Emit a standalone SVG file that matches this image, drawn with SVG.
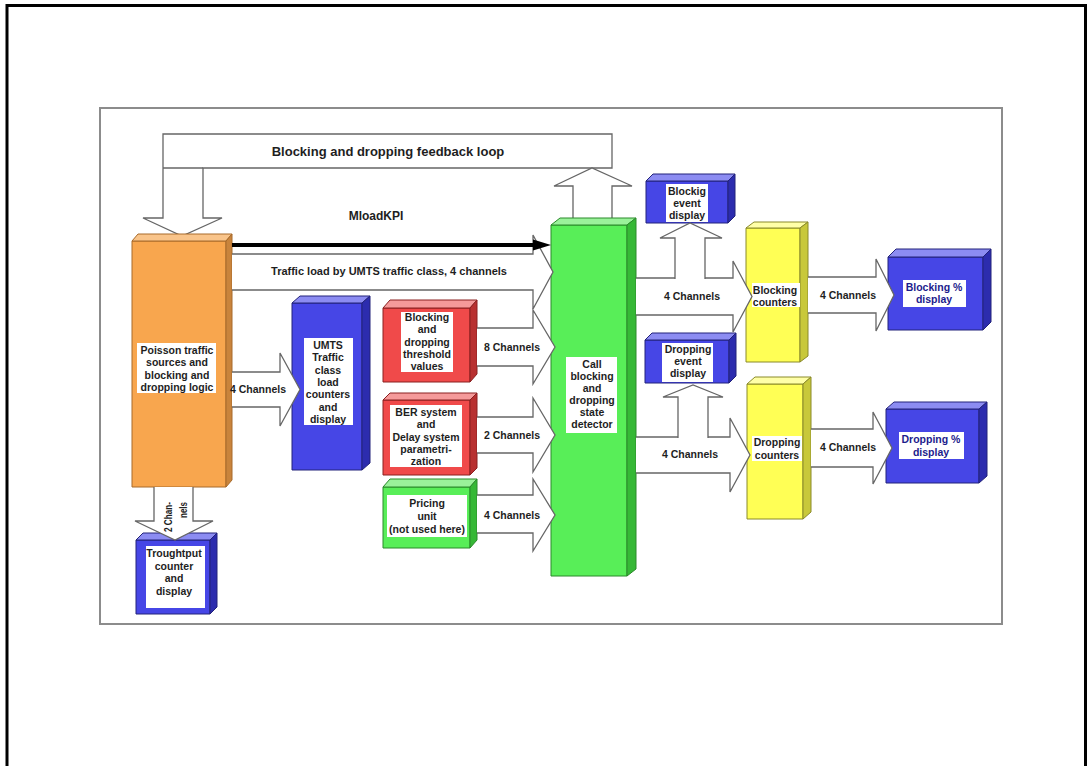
<svg xmlns="http://www.w3.org/2000/svg" width="1087" height="766" viewBox="0 0 1087 766">
  <style>
    text { font-family: "Liberation Sans", Arial, sans-serif; font-weight: bold; font-size: 10.5px; fill: #1e1e1e; text-anchor: middle; }
    .title { font-size: 13px; }
    .kpi { font-size: 12px; }
    .wide { font-size: 11px; }
    .blue-text { fill: #1c1c8c; }
    .hollow { fill: #ffffff; stroke: #666666; stroke-width: 1.3; stroke-linejoin: miter; }
    .label { fill: #ffffff; }
    .face { stroke-width: 1; stroke-linejoin: round; }
    .orange .front { fill: #f8a64e; stroke: #a86a2a; }
    .orange .top { fill: #f9c48a; stroke: #a86a2a; }
    .orange .side { fill: #c9843c; stroke: #a86a2a; }
    .blue .front { fill: #4646e6; stroke: #22227a; }
    .blue .top { fill: #8c8cf2; stroke: #22227a; }
    .blue .side { fill: #2c2cae; stroke: #22227a; }
    .red .front { fill: #f04a4a; stroke: #8a2020; }
    .red .top { fill: #f59a9a; stroke: #8a2020; }
    .red .side { fill: #b83030; stroke: #8a2020; }
    .green .front { fill: #58ee58; stroke: #2a8a2a; }
    .green .top { fill: #9af29a; stroke: #2a8a2a; }
    .green .side { fill: #36b836; stroke: #2a8a2a; }
    .yellow .front { fill: #ffff55; stroke: #8a8a2a; }
    .yellow .top { fill: #ffffa8; stroke: #8a8a2a; }
    .yellow .side { fill: #c8c83a; stroke: #8a8a2a; }
  </style>

  <!-- page frame -->
  <rect x="0" y="0" width="1087" height="766" fill="#ffffff"/>
  <path d="M7,770 V5.5 H1085.5 V770" fill="none" stroke="#000000" stroke-width="3"/>
  <!-- drawing area -->
  <rect x="100" y="108" width="902" height="516" fill="#ffffff" stroke="#8c8c8c" stroke-width="2"/>

  <!-- feedback loop (drawn beneath the blocks) -->
  <g id="feedback-loop">
    <path class="hollow" d="M163,218 V134 H612 V168 H203 V218 H222 L182,236 L143,218 Z"/>
    <path d="M163,168 H203" stroke="#666666" stroke-width="1.3"/>
    <path class="hollow" d="M573,219.5 V186 H554 L592,168 L632,186 H612 V219.5"/>
    <text class="title" x="388" y="156">Blocking and dropping feedback loop</text>
  </g>

  <g id="nodes">
    <g id="poisson" class="orange">
      <rect class="face front" x="132" y="241" width="94" height="246"/>
      <polygon class="face top" points="132,241 138,234 232,234 226,241"/>
      <polygon class="face side" points="226,241 232,234 232,480 226,487"/>
      <rect class="label" x="137" y="343" width="79" height="50"/>
      <text x="177" y="354">Poisson traffic<tspan x="177" dy="12.3">sources and</tspan><tspan x="177" dy="12.3">blocking and</tspan><tspan x="177" dy="12.3">dropping logic</tspan></text>
    </g>

    <g id="umts-counters" class="blue">
      <rect class="face front" x="292" y="303" width="70" height="167"/>
      <polygon class="face top" points="292,303 300,296 370,296 362,303"/>
      <polygon class="face side" points="362,303 370,296 370,463 362,470"/>
      <rect class="label" x="304" y="338" width="49" height="87"/>
      <text x="328" y="349">UMTS<tspan x="328" dy="12.3">Traffic</tspan><tspan x="328" dy="12.3">class</tspan><tspan x="328" dy="12.3">load</tspan><tspan x="328" dy="12.3">counters</tspan><tspan x="328" dy="12.3">and</tspan><tspan x="328" dy="12.3">display</tspan></text>
    </g>

    <g id="thresholds" class="red">
      <rect class="face front" x="383" y="308" width="87" height="74"/>
      <polygon class="face top" points="383,308 390,300 477,300 470,308"/>
      <polygon class="face side" points="470,308 477,300 477,374 470,382"/>
      <rect class="label" x="401" y="312" width="52" height="60"/>
      <text x="427" y="321">Blocking<tspan x="427" dy="12.3">and</tspan><tspan x="427" dy="12.3">dropping</tspan><tspan x="427" dy="12.3">threshold</tspan><tspan x="427" dy="12.3">values</tspan></text>
    </g>

    <g id="ber-delay" class="red">
      <rect class="face front" x="383" y="400" width="87" height="75"/>
      <polygon class="face top" points="383,400 390,393 477,393 470,400"/>
      <polygon class="face side" points="470,400 477,393 477,468 470,475"/>
      <rect class="label" x="390" y="405" width="72" height="62"/>
      <text x="426" y="416">BER system<tspan x="426" dy="12.3">and</tspan><tspan x="426" dy="12.3">Delay system</tspan><tspan x="426" dy="12.3">parametri-</tspan><tspan x="426" dy="12.3">zation</tspan></text>
    </g>

    <g id="pricing" class="green">
      <rect class="face front" x="383" y="487" width="87" height="61"/>
      <polygon class="face top" points="383,487 390,479 477,479 470,487"/>
      <polygon class="face side" points="470,487 477,479 477,540 470,548"/>
      <rect class="label" x="387" y="495" width="80" height="42"/>
      <text x="427" y="507">Pricing<tspan x="427" dy="12.8">unit</tspan><tspan x="427" dy="12.8">(not used here)</tspan></text>
    </g>

    <g id="state-detector" class="green">
      <rect class="face front" x="551" y="225" width="76" height="351"/>
      <polygon class="face top" points="551,225 560,218 636,218 627,225"/>
      <polygon class="face side" points="627,225 636,218 636,569 627,576"/>
      <rect class="label" x="566" y="357" width="51" height="76"/>
      <text x="592" y="368">Call<tspan x="592" dy="12">blocking</tspan><tspan x="592" dy="12">and</tspan><tspan x="592" dy="12">dropping</tspan><tspan x="592" dy="12">state</tspan><tspan x="592" dy="12">detector</tspan></text>
    </g>

    <g id="blocking-event" class="blue">
      <rect class="face front" x="646" y="181" width="82" height="42"/>
      <polygon class="face top" points="646,181 653,174 735,174 728,181"/>
      <polygon class="face side" points="728,181 735,174 735,216 728,223"/>
      <rect class="label" x="666" y="184" width="42" height="38"/>
      <text x="687" y="195">Blockig<tspan x="687" dy="12">event</tspan><tspan x="687" dy="12">display</tspan></text>
    </g>

    <g id="dropping-event" class="blue">
      <rect class="face front" x="645" y="340" width="84" height="43"/>
      <polygon class="face top" points="645,340 652,333 736,333 729,340"/>
      <polygon class="face side" points="729,340 736,333 736,376 729,383"/>
      <rect class="label" x="662" y="343" width="51" height="39"/>
      <text x="688" y="353">Dropping<tspan x="688" dy="12">event</tspan><tspan x="688" dy="12">display</tspan></text>
    </g>

    <g id="blocking-counters" class="yellow">
      <rect class="face front" x="746" y="228" width="54" height="134"/>
      <polygon class="face top" points="746,228 754,222 808,222 800,228"/>
      <polygon class="face side" points="800,228 808,222 808,356 800,362"/>
      <rect class="label" x="752" y="283" width="48" height="24"/>
      <text x="775" y="294">Blocking<tspan x="775" dy="12">counters</tspan></text>
    </g>

    <g id="dropping-counters" class="yellow">
      <rect class="face front" x="747" y="384" width="56" height="135"/>
      <polygon class="face top" points="747,384 755,377 811,377 803,384"/>
      <polygon class="face side" points="803,384 811,377 811,512 803,519"/>
      <rect class="label" x="752" y="436" width="50" height="25"/>
      <text x="777" y="446">Dropping<tspan x="777" dy="12.5">counters</tspan></text>
    </g>

    <g id="blocking-percent" class="blue">
      <rect class="face front" x="888" y="257" width="95" height="73"/>
      <polygon class="face top" points="888,257 896,249 991,249 983,257"/>
      <polygon class="face side" points="983,257 991,249 991,322 983,330"/>
      <rect class="label" x="903" y="280" width="63" height="27"/>
      <text class="blue-text" x="934" y="291">Blocking %<tspan x="934" dy="12">display</tspan></text>
    </g>

    <g id="dropping-percent" class="blue">
      <rect class="face front" x="886" y="409" width="93" height="74"/>
      <polygon class="face top" points="886,409 894,402 987,402 979,409"/>
      <polygon class="face side" points="979,409 987,402 987,476 979,483"/>
      <rect class="label" x="899" y="432" width="65" height="27"/>
      <text class="blue-text" x="931" y="443">Dropping %<tspan x="931" dy="12.5">display</tspan></text>
    </g>

    <g id="throughput" class="blue">
      <rect class="face front" x="136" y="540" width="74" height="74"/>
      <polygon class="face top" points="136,540 143,533 217,533 210,540"/>
      <polygon class="face side" points="210,540 217,533 217,607 210,614"/>
      <rect class="label" x="146" y="546" width="59" height="62"/>
      <text x="174" y="557">Troughtput<tspan x="174" dy="12.5">counter</tspan><tspan x="174" dy="12.5">and</tspan><tspan x="174" dy="12.5">display</tspan></text>
    </g>
  </g>

  <g id="connectors">
    <!-- traffic load by class -->
    <path class="hollow" d="M232,254 H533 V235 L553,272 L533,309 V290 H232"/>
    <text class="wide" x="389" y="275">Traffic load by UMTS traffic class, 4 channels</text>

    <!-- MloadKPI -->
    <path d="M232,245 H537" stroke="#000000" stroke-width="4"/>
    <polygon points="533,239.5 551,245 533,250.5" fill="#000000"/>
    <text class="kpi" x="376" y="220">MloadKPI</text>

    <!-- to UMTS counters -->
    <path class="hollow" d="M232,372 H280 V353 L300,389.5 L280,426 V407 H232"/>
    <text x="258" y="393">4 Channels</text>

    <!-- inputs to state detector -->
    <path class="hollow" d="M477,328 H533 V310 L555,347 L533,384 V366 H477"/>
    <text x="512" y="351">8 Channels</text>
    <path class="hollow" d="M477,417 H533 V398 L555,435 L533,472 V453 H477"/>
    <text x="512" y="439">2 Channels</text>
    <path class="hollow" d="M477,495 H533 V479 L555,515 L533,551 V533 H477"/>
    <text x="512" y="519">4 Channels</text>

    <!-- detector outputs -->
    <path class="hollow" d="M636,278 H733 V261 L752,296.5 L733,332 V315 H636"/>
    <text x="692" y="300">4 Channels</text>
    <path class="hollow" d="M675,279 V238 H660 L690,223 L722,238 H705 V279"/>

    <path class="hollow" d="M636,437 H730 V418 L750,455 L730,492 V473 H636"/>
    <text x="690" y="458">4 Channels</text>
    <path class="hollow" d="M678,438 V397 H663 L693,385 L723,397 H708 V438"/>

    <!-- counters to percent displays -->
    <path class="hollow" d="M808,277 H876 V259 L894,295 L876,331 V313 H808"/>
    <text x="848" y="299">4 Channels</text>
    <path class="hollow" d="M811,429 H873 V412 L892,448 L873,484 V467 H811"/>
    <text x="848" y="451">4 Channels</text>

    <!-- throughput -->
    <path class="hollow" d="M154,487 V521 H135 L175,540 L213,521 H193 V487"/>
    <text transform="translate(172,517) rotate(-90)" x="0" y="0" textLength="30" lengthAdjust="spacingAndGlyphs">2 Chan-</text>
    <text transform="translate(187,510) rotate(-90)" x="0" y="0" textLength="16" lengthAdjust="spacingAndGlyphs">nels</text>
  </g>
</svg>
